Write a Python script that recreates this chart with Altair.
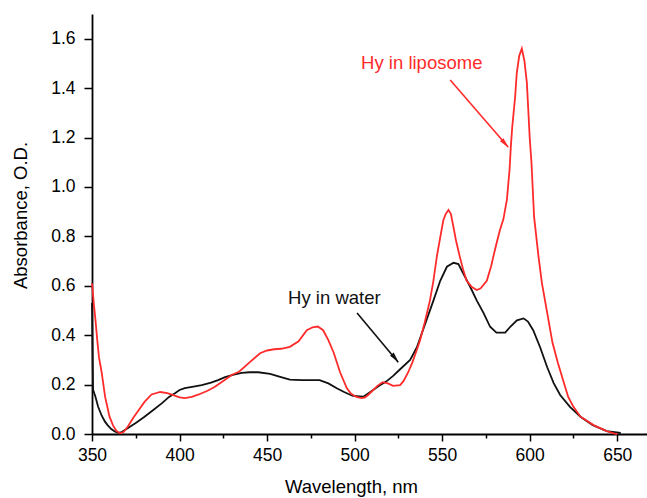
import altair as alt
import pandas as pd

# Absorption spectra of hypericin (Hy)
wl_lipo = [350, 351, 352, 353, 354, 355.5, 357.5, 360, 362, 364, 366, 368, 370.5, 373.5,
           376, 380, 384, 389, 393, 396, 400, 403, 407, 411, 416, 420, 426, 430, 434,
           440, 446, 450, 454, 458, 463, 468, 472.7, 476, 479, 482, 485, 488, 491.7,
           495.5, 498, 501, 504, 506, 508, 510.6, 513, 516, 519, 522, 526, 528, 530.6,
           533, 535.5, 537.4, 540, 543, 545, 547, 549, 550.7, 552, 553.6, 555, 556.4,
           558, 560, 562, 564, 567, 569.8, 572, 575.5, 578, 579.3, 581, 583, 585, 587,
           588.5, 589.2, 590, 591.7, 592.6, 594, 595.5, 597, 598.4, 600, 601, 602.5,
           605, 607, 610, 613, 616, 619, 622, 625, 629, 636.5, 644, 648, 650]
abs_lipo = [0.61, 0.53, 0.46, 0.38, 0.31, 0.25, 0.15, 0.07, 0.035, 0.012, 0.003, 0.008,
            0.03, 0.065, 0.09, 0.13, 0.16, 0.17, 0.165, 0.158, 0.148, 0.145, 0.15, 0.16,
            0.175, 0.19, 0.22, 0.24, 0.252, 0.29, 0.327, 0.338, 0.343, 0.345, 0.353,
            0.375, 0.42, 0.432, 0.435, 0.42, 0.38, 0.33, 0.25, 0.186, 0.163, 0.15, 0.145,
            0.148, 0.16, 0.178, 0.195, 0.21, 0.205, 0.195, 0.198, 0.215, 0.25, 0.29,
            0.34, 0.38, 0.45, 0.54, 0.62, 0.72, 0.80, 0.866, 0.89, 0.907, 0.89, 0.84,
            0.78, 0.72, 0.665, 0.62, 0.595, 0.583, 0.59, 0.62, 0.68, 0.72, 0.77, 0.826,
            0.87, 0.95, 1.07, 1.16, 1.24, 1.366, 1.46, 1.53, 1.56, 1.51, 1.42, 1.20,
            1.10, 0.88, 0.72, 0.61, 0.49, 0.37, 0.29, 0.22, 0.15, 0.11, 0.07, 0.036,
            0.012, 0.003, 0.0]

wl_water = [350, 350.6, 352, 353.5, 355.5, 357.4, 359, 361, 363, 365, 367, 370.6, 375,
            380, 385, 390, 394, 397.4, 400, 403, 408, 412.7, 418, 422, 426, 431, 435.5,
            440, 445, 451.7, 457, 463, 470, 480, 485, 489.8, 494, 499, 505, 510.6, 514,
            518, 522, 526, 531.7, 535.5, 538, 541, 545, 548.9, 552.7, 556.5, 559.3, 562,
            566, 569.8, 573.6, 577.4, 581, 586, 588.9, 592.7, 596.5, 599, 602, 606, 610,
            613.7, 617.4, 623, 629, 636, 644, 652]
abs_water = [0.53, 0.18, 0.15, 0.11, 0.075, 0.05, 0.035, 0.02, 0.01, 0.005, 0.008, 0.024,
             0.045, 0.07, 0.097, 0.125, 0.15, 0.165, 0.178, 0.186, 0.192, 0.198, 0.208,
             0.218, 0.23, 0.24, 0.247, 0.25, 0.25, 0.243, 0.232, 0.22, 0.218, 0.218,
             0.205, 0.185, 0.17, 0.154, 0.151, 0.178, 0.195, 0.212, 0.235, 0.262, 0.30,
             0.35, 0.40, 0.46, 0.54, 0.62, 0.677, 0.693, 0.688, 0.65, 0.596, 0.54, 0.49,
             0.434, 0.41, 0.41, 0.434, 0.46, 0.468, 0.455, 0.42, 0.35, 0.27, 0.206, 0.158,
             0.11, 0.07, 0.036, 0.012, 0.004]

# Axis ticks (major + minor)
x_ticks = [350, 375, 400, 425, 450, 475, 500, 525, 550, 575, 600, 625, 650]
y_ticks = [0.0, 0.1, 0.2, 0.3, 0.4, 0.5, 0.6, 0.7, 0.8, 0.9, 1.0, 1.1, 1.2, 1.3, 1.4,
           1.5, 1.6]

# Labels and their arrows: text anchor, arrow start, arrow tip, head position
labels = ["Hy in liposome", "Hy in water"]
label_colors = ["#ff2b2b", "#111111"]
label_x = [503.7, 462.0]
label_y = [1.50, 0.55]
arrow_x0 = [554.6, 501.4]
arrow_y0 = [1.433, 0.49]
arrow_x1 = [587.7, 524.9]
arrow_y1 = [1.162, 0.29]
head_x = [586.0, 523.2]
head_y = [1.175, 0.307]
head_angle = [139, 140]

RED = "#ff2b2b"
BLACK = "#111111"
FONT = "Liberation Sans"

lipo = pd.DataFrame({"wl": wl_lipo, "A": abs_lipo})
water = pd.DataFrame({"wl": wl_water, "A": abs_water})
ann = pd.DataFrame({
    "label": labels, "color": label_colors, "x": label_x, "y": label_y,
    "x0": arrow_x0, "y0": arrow_y0, "x1": arrow_x1, "y1": arrow_y1,
    "hx": head_x, "hy": head_y, "angle": head_angle,
})

x_scale = alt.Scale(domain=[350, 667], nice=False, zero=False)
y_scale = alt.Scale(domain=[0, 1.7], nice=False)

x_major = "datum.value % 50 === 0"
y_major = "abs(datum.value * 5 - round(datum.value * 5)) < 0.001"

x_axis = alt.Axis(
    values=x_ticks,
    labelExpr=f"{x_major} ? datum.value : ''",
    tickSize={"condition": {"test": x_major, "value": 7}, "value": 4},
    labelPadding=5, labelFontSize=17.5, labelFont=FONT, labelColor="black",
    labelOverlap=False, labelFlush=False,
    title="Wavelength, nm", titleFont=FONT, titleFontSize=18.5,
    titleFontWeight="normal", titleColor="black",
    titleX=259, titleY=52, titleBaseline="middle", titleAlign="center",
    domainColor="black", domainWidth=1.8, tickColor="black", tickWidth=1.5,
    grid=False,
)
y_axis = alt.Axis(
    values=y_ticks,
    labelExpr=f"{y_major} ? format(datum.value, '.1f') : ''",
    tickSize={"condition": {"test": y_major, "value": 8}, "value": 4},
    labelPadding=9, labelFontSize=17.5, labelFont=FONT, labelColor="black",
    labelOverlap=False, labelFlush=False,
    title="Absorbance, O.D.", titleFont=FONT, titleFontSize=18.5,
    titleFontWeight="normal", titleColor="black",
    titleX=-72, titleY=201, titleBaseline="middle", titleAlign="center",
    domainColor="black", domainWidth=1.8, tickColor="black", tickWidth=1.5,
    grid=False,
)

water_line = alt.Chart(water).mark_line(color=BLACK, strokeWidth=1.8).encode(
    x=alt.X("wl:Q", scale=x_scale, axis=x_axis),
    y=alt.Y("A:Q", scale=y_scale, axis=y_axis),
    order="wl:Q",
)
lipo_line = alt.Chart(lipo).mark_line(color=RED, strokeWidth=1.8).encode(
    x=alt.X("wl:Q", scale=x_scale),
    y=alt.Y("A:Q", scale=y_scale),
    order="wl:Q",
)

color_scale = alt.Scale(domain=labels, range=label_colors)

texts = alt.Chart(ann).mark_text(
    align="left", baseline="middle", font=FONT, fontSize=18.5
).encode(
    x=alt.X("x:Q", scale=x_scale),
    y=alt.Y("y:Q", scale=y_scale),
    text="label:N",
    color=alt.Color("label:N", scale=color_scale, legend=None),
)
arrows = alt.Chart(ann).mark_rule(strokeWidth=1.6).encode(
    x=alt.X("x0:Q", scale=x_scale),
    y=alt.Y("y0:Q", scale=y_scale),
    x2="x1:Q",
    y2="y1:Q",
    color=alt.Color("label:N", scale=color_scale, legend=None),
)
heads = alt.Chart(ann).mark_point(
    shape="M0,-1L0.45,1L-0.45,1Z", filled=True, size=110, opacity=1
).encode(
    x=alt.X("hx:Q", scale=x_scale),
    y=alt.Y("hy:Q", scale=y_scale),
    angle=alt.Angle("angle:Q", scale=None),
    color=alt.Color("label:N", scale=color_scale, legend=None),
)

chart = alt.layer(water_line, lipo_line, arrows, heads, texts).properties(
    width=555,
    height=420,
    autosize=alt.AutoSizeParams(type="none"),
    padding={"left": 92, "top": 14, "right": 0, "bottom": 64},
    background="white",
).configure_view(stroke=None)

chart.save("out.html", embed_options={"renderer": "svg", "actions": False})
